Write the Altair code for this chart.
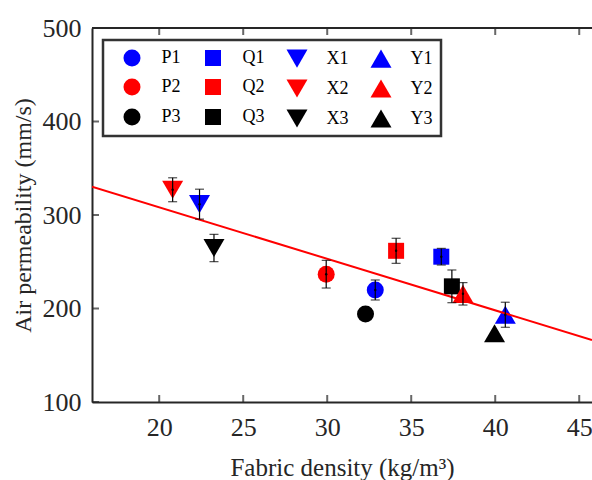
import altair as alt
import pandas as pd

# ---- data ----
names = ["P1", "P2", "P3", "Q1", "Q2", "Q3", "X1", "X2", "X3", "Y1", "Y2", "Y3"]
density = [32.86, 29.94, 32.28, 36.79, 34.1, 37.42, 22.4, 20.8, 23.26, 40.6, 38.08, 39.96]
permeability = [219.8, 236.7, 194.0, 255.4, 261.7, 223.7, 311.6, 327.0, 264.7, 193.3, 215.7, 173.5]
error = [10.7, 14.8, 0.0, 8.9, 13.4, 17.5, 16.0, 12.8, 14.6, 13.4, 12.0, 0.0]
colors = ["#0000FF", "#FF0000", "#000000"] * 4
shapes = ["circle"] * 3 + ["square"] * 3 + ["triangle-down"] * 3 + ["triangle-up"] * 3
sizes = [289] * 3 + [256] * 3 + [441] * 3 + [441] * 3

fit_x = [16.0, 45.76]
fit_y = [330.3, 166.3]

x_ticks = [20, 25, 30, 35, 40, 45]
y_ticks = [100, 200, 300, 400, 500]
x_domain = [16.0, 45.76]
y_domain = [100, 500]

FONT = "Liberation Serif"
AX = "#262626"

df = pd.DataFrame({"name": names, "x": density, "y": permeability, "err": error})
df["lo"] = df["y"] - df["err"]
df["hi"] = df["y"] + df["err"]
eb = df[df["err"] > 0]

fit = pd.DataFrame({"x": fit_x, "y": fit_y})
xt = pd.DataFrame({"v": x_ticks})
yt = pd.DataFrame({"v": y_ticks})
one = pd.DataFrame({"a": [0]})

xscale = alt.Scale(domain=x_domain, nice=False, zero=False)
yscale = alt.Scale(domain=y_domain, nice=False, zero=False)

XT = "Fabric density (kg/m³)"
YT = "Air permeability (mm/s)"

xaxis = alt.Axis(
    values=x_ticks, ticks=False, tickSize=0, grid=False,
    domainColor=AX, domainWidth=2,
    labelFont=FONT, labelFontSize=26, labelColor=AX, labelPadding=12,
    title=XT, titleFont=FONT, titleFontSize=25,
    titleFontWeight="normal", titleColor=AX, titleY=73, titleBaseline="alphabetic",
)
yaxis = alt.Axis(
    values=y_ticks, ticks=False, tickSize=0, grid=False,
    domainColor=AX, domainWidth=2,
    labelFont=FONT, labelFontSize=26, labelColor=AX, labelPadding=11,
    title=YT, titleFont=FONT, titleFontSize=24,
    titleFontWeight="normal", titleColor=AX, titleX=-62, titleY=187,
    titleAngle=270, titleAlign="center", titleBaseline="alphabetic",
)


def X(field):
    return alt.X(field, scale=xscale, axis=xaxis, title=XT)


def Y(field):
    return alt.Y(field, scale=yscale, axis=yaxis, title=YT)


legend = alt.Legend(
    orient="none", legendX=11, legendY=12, columns=4,
    labelFont=FONT, labelFontSize=18, labelColor="#000000",
    padding=8, rowPadding=10, columnPadding=11,
    labelOffset=19, symbolOffset=10.5,
    strokeColor="#333333", fillColor="#FFFFFF",
    symbolStrokeWidth=0, symbolOpacity=1,
)

points = alt.Chart(df).mark_point(filled=True, opacity=1, strokeWidth=0).encode(
    x=X("x:Q"),
    y=Y("y:Q"),
    color=alt.Color("name:N", scale=alt.Scale(domain=names, range=colors), legend=legend, title=None),
    shape=alt.Shape("name:N", scale=alt.Scale(domain=names, range=shapes), legend=legend, title=None),
    size=alt.Size("name:N", scale=alt.Scale(type="ordinal", domain=names, range=sizes), legend=legend, title=None),
)

line = alt.Chart(fit).mark_line(color="#FF0000", strokeWidth=2, clip=True).encode(
    x=X("x:Q"), y=Y("y:Q"),
)

bars = alt.Chart(eb).mark_rule(color="#000000", strokeWidth=1.2).encode(
    x=X("x:Q"), y=Y("lo:Q"), y2="hi:Q",
)
cap_lo = alt.Chart(eb).mark_tick(orient="horizontal", size=9, thickness=1.2, color="#000000").encode(
    x=X("x:Q"), y=Y("lo:Q"),
)
cap_hi = alt.Chart(eb).mark_tick(orient="horizontal", size=9, thickness=1.2, color="#000000").encode(
    x=X("x:Q"), y=Y("hi:Q"),
)
dots = alt.Chart(eb).mark_point(filled=True, size=6, opacity=1, color="#000000", shape="circle").encode(
    x=X("x:Q"), y=Y("y:Q"),
)

# inward ticks and top frame line
bottom_ticks = alt.Chart(xt).mark_tick(orient="vertical", size=7, thickness=2, color=AX, yOffset=-3.5).encode(
    x=X("v:Q"), y=alt.YDatum(100, scale=yscale, axis=yaxis, title=YT)
)
top_ticks = alt.Chart(xt).mark_tick(orient="vertical", size=7, thickness=2, color=AX, yOffset=3.5).encode(
    x=X("v:Q"), y=alt.YDatum(500, scale=yscale, axis=yaxis, title=YT)
)
left_ticks = alt.Chart(yt).mark_tick(orient="horizontal", size=7, thickness=2, color=AX, xOffset=3.5).encode(
    y=Y("v:Q"), x=alt.XDatum(16.0, scale=xscale, axis=xaxis, title=XT)
)
top_line = alt.Chart(one).mark_rule(color=AX, strokeWidth=2).encode(
    y=alt.YDatum(500, scale=yscale, axis=yaxis, title=YT),
    x=alt.XDatum(x_domain[0], scale=xscale, axis=xaxis, title=XT),
    x2=alt.X2Datum(x_domain[1]),
)

chart = alt.layer(
    points, line, bars, cap_lo, cap_hi, dots,
    bottom_ticks, top_ticks, left_ticks, top_line,
).properties(
    width=500, height=374,
    padding={"left": 92, "top": 28, "right": 0, "bottom": 78},
    autosize=alt.AutoSizeParams(type="none"),
    background="#FFFFFF",
).configure_view(
    stroke="transparent"
).configure_axis(
    labelFont=FONT, titleFont=FONT, labelFontSize=26,
    titleFontWeight="normal", labelColor=AX, titleColor=AX,
).configure_legend(
    strokeWidth=2.5, labelFont=FONT
).configure_text(
    font=FONT
)

chart.save("out.html", embed_options={"renderer": "svg", "actions": False})
